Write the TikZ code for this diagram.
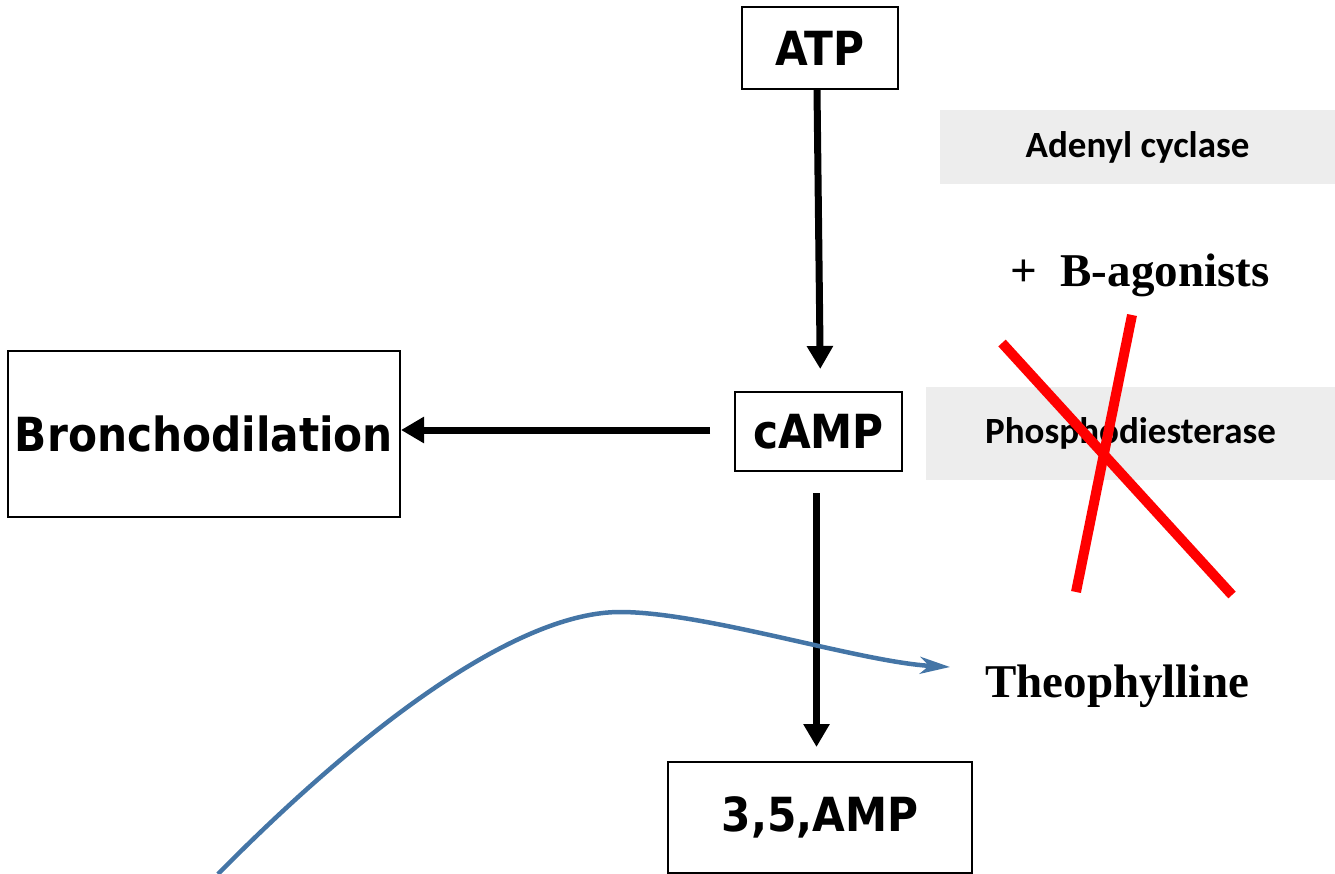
\documentclass[tikz,border=0pt]{standalone}
\usepackage{fontspec}
\setmainfont{Liberation Serif}
\newfontfamily\dvc{DejaVu Sans Condensed}[BoldFont={DejaVu Sans Condensed Bold}]
\newfontfamily\carl{Carlito}
\usetikzlibrary{arrows.meta,calc}
\definecolor{graybox}{RGB}{237,237,237}
\definecolor{curveblue}{RGB}{68,117,166}
\definecolor{xred}{RGB}{255,0,0}
\tikzset{
  mainbox/.style={draw=black, line width=2pt, inner sep=0pt, font=\dvc\bfseries\fontsize{47}{52}\selectfont},
  enzyme/.style={fill=graybox, draw=none, inner sep=0pt, font=\carl\bfseries\fontsize{37}{42}\selectfont},
  drug/.style={inner sep=0pt, anchor=base west, font=\bfseries\fontsize{47}{52}\selectfont},
  arr/.style={line width=7pt, -{Triangle[length=23pt,width=25pt]}},
  crossline/.style={xred, line width=10pt},
  inhib/.style={curveblue, line width=4.5pt, -{Stealth[length=30pt,width=17pt,inset=9pt]}}
}
\begin{document}
\begin{tikzpicture}[x=1pt,y=-1pt]
\useasboundingbox (0,0) rectangle (1335,874);
% enzymes
\node[enzyme, minimum width=395pt, minimum height=74pt] (adc) at (1137.5,147) {Adenyl cyclase};
\node[enzyme, minimum width=409pt, minimum height=93pt] (pde) at (1130.5,433.5) {Phosphodiesterase};
% main boxes
\node[mainbox, minimum width=156pt, minimum height=82pt] (atp) at (820,48) {ATP};
\node[mainbox, minimum width=167pt, minimum height=79pt] (camp) at (818.5,431.5) {cAMP};
\node[mainbox, minimum width=392pt, minimum height=166pt] (bron) at (204,434) {Bronchodilation};
\node[mainbox, minimum width=304pt, minimum height=111pt] (amp) at (820,817.5) {3,5,AMP};
% drugs
\node[drug] (bag) at (1010,287) {+~~B-agonists};
\node[drug] (theo) at (985,697) {Theophylline};
% arrows
\draw[arr, shorten >=22pt] ([xshift=-3pt]atp.south) -- ([xshift=2pt]camp.north);
\draw[arr, shorten <=24pt] ([yshift=1.5pt]camp.west) -- ([yshift=1.5pt]camp.west -| bron.east);
\draw[arr, shorten <=21pt, shorten >=14pt] ([xshift=-2pt]camp.south) -- ([xshift=-2pt]camp.south |- amp.north);
% cross
\coordinate (c1a) at (1002,343);
\coordinate (c1b) at (1232,595);
\coordinate (c2a) at (1132,315);
\coordinate (c2b) at (1076,592);
\draw[crossline] (c1a) -- (c1b);
\draw[crossline] (c2a) -- (c2b);
% inhibition curve
\coordinate (cs) at (218,874);
\coordinate (cm) at (620,612);
\coordinate (ce) at (950,667);
\draw[inhib] (cs) .. controls (370,720) and (520,612) .. (cm) .. controls (705,612) and (860,662) .. (ce);
\end{tikzpicture}
\end{document}
